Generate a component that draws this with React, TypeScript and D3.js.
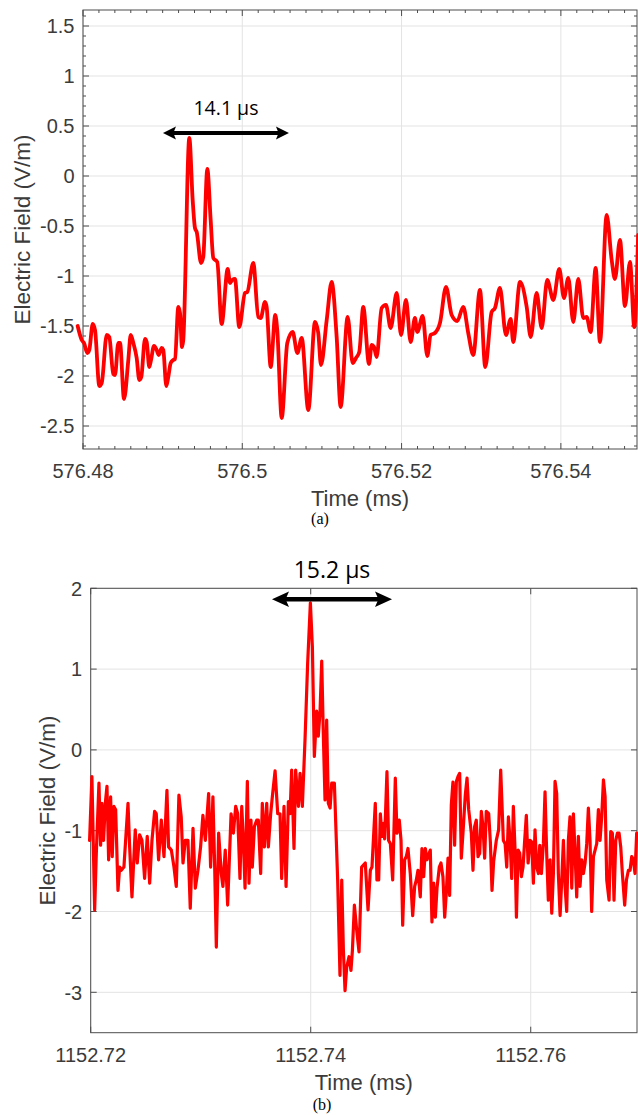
import React from 'react'
import * as d3 from 'd3'

const WIDTH = 638
const HEIGHT = 1115

// (a) field record around 576.5 ms, times given in µs after startA
const startA = 576.48
const offsetUsA = [
  -0.67, -0.16, 0.13, 0.54, 0.79, 1.22, 1.51, 2.05, 2.35, 2.98,
  3.3, 3.8, 4.02, 4.43, 4.65, 5.15, 5.69, 5.99, 6.32, 6.74,
  7.07, 7.32, 7.78, 8.0, 8.32, 8.54, 8.91, 9.25, 9.5, 9.88,
  10.08, 10.46, 10.71, 11.01, 11.34, 11.55, 11.97, 12.18, 12.43, 12.59,
  13.35, 13.77, 14.06, 14.28, 14.82, 15.1, 15.61, 16.03, 16.36, 16.86,
  17.41, 18.17, 18.46, 18.74, 19.08, 19.62, 20.34, 20.63, 21.38, 22.01,
  22.31, 22.85, 23.06, 23.57, 24.14, 24.39, 24.95, 25.65, 26.33, 26.91,
  27.46, 28.29, 29.13, 29.54, 29.88, 30.6, 31.22, 31.85, 32.35, 33.23,
  33.86, 34.28, 34.69, 35.19, 35.91, 36.25, 36.54, 36.87, 37.5, 38.04,
  38.63, 39.39, 39.93, 40.55, 41.14, 41.68, 41.97, 42.65, 43.23, 43.65,
  44.19, 44.82, 45.58, 46.29, 46.99, 47.75, 48.37, 49.0, 49.84, 50.51,
  51.31, 51.73, 52.35, 53.11, 53.7, 54.02, 54.87, 55.71, 56.21, 56.96,
  57.59, 58.29, 59.05, 59.8, 60.39, 60.93, 61.56, 62.19, 62.81, 63.24,
  63.74, 64.37, 64.91, 65.75, 66.38, 66.79, 67.42, 68.05, 68.68, 69.22,
  69.7
]
const fieldA = [
  -1.5, -1.64, -1.67, -1.77, -1.74, -1.48, -1.54, -2.1, -2.07, -1.59,
  -1.61, -1.98, -1.99, -1.67, -1.67, -2.23, -1.84, -1.59, -1.67, -1.82,
  -2.04, -2.01, -1.63, -1.66, -1.91, -1.84, -1.7, -1.74, -1.79, -1.72,
  -1.74, -2.1, -2.01, -1.87, -1.84, -1.83, -1.31, -1.37, -1.71, -1.64,
  0.38, -0.24, -0.52, -0.56, -0.87, -0.81, 0.07, -0.44, -0.82, -0.86,
  -1.48, -0.93, -1.07, -1.04, -1.03, -1.51, -1.17, -1.16, -0.87, -1.41,
  -1.42, -1.26, -1.31, -1.91, -1.39, -1.54, -2.42, -1.67, -1.56, -1.77,
  -1.62, -2.34, -1.46, -1.57, -1.89, -1.44, -1.06, -1.61, -2.31, -1.41,
  -1.87, -1.82, -1.76, -1.31, -1.88, -1.69, -1.71, -1.81, -1.32, -1.29,
  -1.52, -1.17, -1.59, -1.24, -1.66, -1.42, -1.56, -1.4, -1.8, -1.59,
  -1.57, -1.47, -1.11, -1.39, -1.45, -1.31, -1.57, -1.79, -1.14, -1.91,
  -1.36, -1.32, -1.12, -1.59, -1.43, -1.66, -1.06, -1.31, -1.61, -1.17,
  -1.52, -1.04, -1.24, -0.93, -1.22, -1.02, -1.46, -1.03, -1.42, -1.41,
  -1.56, -0.92, -1.66, -0.39, -0.84, -1.03, -0.64, -1.3, -0.86, -1.51,
  -0.59
]
const xTicksA = [576.48, 576.5, 576.52, 576.54]
const yTicksA = [-2.5, -2, -1.5, -1, -0.5, 0, 0.5, 1, 1.5]

// (b) field record around 1152.74 ms, times given in µs after startB
const startB = 1152.72
const offsetUsB = [
  -0.1, 0.11, 0.36, 0.51, 0.75, 0.9, 1.02, 1.17, 1.33, 1.48,
  1.63, 1.81, 1.96, 2.11, 2.27, 2.48, 2.63, 2.78, 3.02, 3.39,
  3.54, 3.75, 4.05, 4.23, 4.45, 4.66, 4.9, 5.14, 5.36, 5.57,
  5.81, 5.96, 6.17, 6.42, 6.66, 6.93, 7.08, 7.33, 7.57, 7.78,
  8.02, 8.23, 8.39, 8.6, 8.84, 9.05, 9.3, 9.51, 9.75, 9.99,
  10.2, 10.42, 10.72, 10.9, 11.11, 11.27, 11.42, 11.63, 11.87, 12.02,
  12.23,
  12.45, 12.76, 12.97, 13.18, 13.36, 13.57, 13.73, 13.88, 14.03, 14.24,
  14.39, 14.57, 14.69, 14.88, 15.09, 15.24, 15.45, 15.6, 15.79, 16.0,
  16.15, 16.36, 16.54, 16.76, 17.0, 17.21, 17.36, 17.57, 17.76, 17.97,
  18.12, 18.27, 18.48, 18.63, 18.88, 19.03, 19.24, 19.48, 19.72, 19.97,
  20.15, 20.33, 20.54, 20.69, 20.85, 21.0, 21.15, 21.3, 21.45, 21.6,
  21.76, 21.91, 22.15, 22.45, 22.66, 22.82, 22.97, 23.12, 23.27, 23.48,
  23.66, 23.79, 23.97, 24.18, 24.39, 24.63,
  24.96, 25.21, 25.42, 25.57, 25.87, 26.02, 26.18, 26.33, 26.48, 26.63,
  26.72, 26.93, 27.08, 27.24, 27.45, 27.69, 27.84, 28.05, 28.21, 28.36,
  28.54, 28.69, 28.84, 29.05, 29.27, 29.45, 29.6, 29.75, 29.96, 30.11,
  30.27, 30.42, 30.57, 30.87, 31.02, 31.18, 31.33, 31.48, 31.69, 31.84,
  32.02, 32.18, 32.33, 32.48, 32.63, 32.78, 32.93, 33.08, 33.24, 33.39,
  33.54, 33.69, 33.84, 34.05, 34.21, 34.36, 34.6, 34.75, 34.9, 35.05,
  35.21, 35.36, 35.51, 35.66, 35.81, 35.96, 36.18, 36.33, 36.48, 36.63,
  36.87, 37.08,
  37.27, 37.51, 37.67, 37.82, 37.97, 38.12, 38.27, 38.42, 38.57, 38.7,
  38.85, 39.0, 39.15, 39.3, 39.45, 39.6, 39.76, 39.94, 40.09, 40.24,
  40.39, 40.54, 40.7, 40.82, 40.97, 41.15, 41.3, 41.45, 41.6, 41.76,
  41.91, 42.06, 42.21, 42.36, 42.51, 42.67, 42.82, 42.97, 43.12, 43.27,
  43.42, 43.57, 43.73, 43.88, 44.03, 44.18, 44.33, 44.48, 44.64, 44.79,
  44.94, 45.09, 45.24, 45.39, 45.54, 45.7, 45.85, 46.0, 46.15, 46.3,
  46.45, 46.61, 46.76, 46.91, 47.12, 47.27, 47.42, 47.57, 47.73, 47.88,
  48.03, 48.18, 48.33, 48.54, 48.7, 48.88, 49.03, 49.18, 49.33, 49.48,
  49.63
]
const fieldB = [
  -1.12, -0.33, -1.98, -1.28, -0.41, -1.18, -0.66, -1.12, -0.66, -0.45,
  -1.36, -0.58, -1.32, -0.7, -0.74, -1.74, -1.45, -1.49, -1.45, -0.66,
  -1.2, -1.82, -0.99, -1.4, -1.05, -1.12, -1.59, -1.07, -1.65, -1.12,
  -0.76, -0.79, -1.36, -0.87, -1.32, -0.5, -1.2, -1.24, -1.45, -1.69,
  -0.56, -0.83, -1.4, -1.12, -1.12, -1.96, -0.97, -1.71, -1.49, -1.2,
  -0.81, -1.12, -0.54, -1.45, -0.58, -1.45, -2.44, -1.03, -1.53, -1.69,
  -1.24,
  -1.92, -0.79, -1.03, -0.7, -0.79, -1.59, -0.7, -1.12, -1.71, -0.39,
  -1.65, -0.87, -1.45, -0.95, -0.87, -0.87, -1.53, -0.66, -1.2, -0.66,
  -1.2, -0.79, -0.54, -0.26, -0.79, -0.79, -1.59, -0.7, -1.69, -0.64,
  -0.79, -0.25, -1.22, -0.25, -0.7, -0.29, -0.7, 0.12, 1.07, 1.82,
  1.28, -0.08, 0.48, 0.17, 0.48, 1.1, 0.17, -0.62, 0.37, -0.66,
  -0.72, -0.41, -0.41, -1.61, -2.79, -1.61, -2.48, -2.98, -2.69, -2.56,
  -2.73, -2.48, -1.92, -2.23, -2.5, -1.45,
  -1.4, -1.98, -1.49, -1.45, -0.66, -1.61, -1.61, -0.79, -1.07, -0.91,
  -1.1, -0.27, -1.12, -1.16, -1.61, -0.35, -1.03, -0.87, -1.12, -2.17,
  -1.36, -1.32, -1.22, -1.53, -2.05, -1.69, -1.61, -1.49, -1.82, -1.22,
  -1.57, -1.22, -1.36, -1.24, -2.13, -1.65, -2.07, -1.71, -1.45, -1.4,
  -1.57, -2.07, -1.76, -1.34, -1.8, -0.68, -0.4, -1.18, -0.39, -0.33,
  -0.29, -1.34, -1.03, -0.56, -0.35, -0.74, -1.03, -1.49, -0.95, -0.87,
  -1.32, -1.28, -0.76, -0.95, -1.34, -0.76, -0.79, -1.14, -1.74, -1.38,
  -1.12, -0.99,
  -0.25, -1.12, -1.16, -1.45, -0.83, -1.12, -1.59, -0.7, -1.22, -2.07,
  -1.24, -1.28, -1.57, -1.45, -1.12, -0.81, -1.4, -1.12, -1.14, -1.65,
  -0.99, -1.45, -1.53, -1.18, -1.53, -1.16, -0.52, -1.28, -1.86, -1.36,
  -2.02, -1.53, -0.39, -0.54, -1.53, -2.05, -1.61, -1.12, -1.69, -2.0,
  -1.12, -0.83, -1.71, -0.79, -1.28, -1.82, -1.07, -1.69, -1.36, -1.53,
  -1.4, -1.16, -0.72, -1.12, -2.0, -1.32, -1.24, -1.16, -0.74, -1.12,
  -0.83, -0.37, -0.58, -1.61, -1.86, -1.01, -1.03, -1.86, -1.12, -1.03,
  -1.03, -1.2, -1.53, -1.92, -1.61, -1.49, -1.49, -1.32, -1.36, -1.53,
  -1.03
]
const xTicksB = [1152.72, 1152.74, 1152.76]
const yTicksB = [-3, -2, -1, 0, 1, 2]

const AXIS = '#4d4d4d'
const GRID = '#e3e3e3'
const TEXT = '#3b3b3b'
const SANS = '"Liberation Sans", Arial, Helvetica, sans-serif'

const minorTicks = (domain, step, majors) => {
  if (!step) return []
  const a = Math.ceil(domain[0] / step - 1e-6)
  const b = Math.floor(domain[1] / step + 1e-6)
  return d3
    .range(a, b + 1)
    .map(k => k * step)
    .filter(v => !majors.some(t => Math.abs(t - v) < step / 10))
}

const Arrow = ({ x1, x2, y, len, half, width }) => {
  const head = (tip, dir) =>
    `M${tip},${y} L${tip + dir * len},${y - half} L${tip + dir * len * 0.8},${y} L${tip + dir * len},${y + half} Z`
  return (
    <g>
      <line x1={x1 + len * 0.7} x2={x2 - len * 0.7} y1={y} y2={y} stroke="#000" strokeWidth={width} />
      <path d={head(x1, 1)} fill="#000" />
      <path d={head(x2, -1)} fill="#000" />
    </g>
  )
}

const Panel = props => {
  let {
    start, offsetsUs, field, xDomain, yDomain, left, right, top, bottom,
    xTicks, yTicks, xMinorStep, yMinorStep, lineWidth, smooth, span,
    yLabelX, caption, captionX, captionY
  } = props

  const x = d3.scaleLinear().domain(xDomain).range([left, right])
  const y = d3.scaleLinear().domain(yDomain).range([bottom, top])

  const points = d3.zip(offsetsUs, field).map(([us, v]) => [start + us / 1000, v])
  const trace = d3
    .line()
    .x(d => x(d[0]))
    .y(d => y(d[1]))
    .curve(smooth ? d3.curveMonotoneX : d3.curveLinear)(points)

  const xMinor = minorTicks(xDomain, xMinorStep, xTicks)
  const yMinor = minorTicks(yDomain, yMinorStep, yTicks)
  const major = 6
  const minor = 3

  const ax1 = x(span.from)
  const ax2 = x(span.to)
  const ay = y(span.level)

  return (
    <g>
      {xTicks.map(t => (
        <line key={'gx' + t} x1={x(t)} x2={x(t)} y1={top} y2={bottom} stroke={GRID} strokeWidth={1} />
      ))}
      {yTicks.map(t => (
        <line key={'gy' + t} x1={left} x2={right} y1={y(t)} y2={y(t)} stroke={GRID} strokeWidth={1} />
      ))}

      <rect x={left} y={top} width={right - left} height={bottom - top} fill="none" stroke={AXIS} strokeWidth={1} />

      {xTicks.map(t => (
        <g key={'tx' + t}>
          <line x1={x(t)} x2={x(t)} y1={bottom} y2={bottom - major} stroke={AXIS} />
          <line x1={x(t)} x2={x(t)} y1={top} y2={top + major} stroke={AXIS} />
          <text x={x(t)} y={bottom + 29} textAnchor="middle" fontFamily={SANS} fontSize={20} fill={TEXT}>
            {String(t)}
          </text>
        </g>
      ))}
      {xMinor.map(t => (
        <g key={'mx' + t}>
          <line x1={x(t)} x2={x(t)} y1={bottom} y2={bottom - minor} stroke={AXIS} />
          <line x1={x(t)} x2={x(t)} y1={top} y2={top + minor} stroke={AXIS} />
        </g>
      ))}
      {yTicks.map(t => (
        <g key={'ty' + t}>
          <line x1={left} x2={left + major} y1={y(t)} y2={y(t)} stroke={AXIS} />
          <line x1={right} x2={right - major} y1={y(t)} y2={y(t)} stroke={AXIS} />
          <text x={left - 8.5} y={y(t)} dy="0.36em" textAnchor="end" fontFamily={SANS} fontSize={20} fill={TEXT}>
            {String(t)}
          </text>
        </g>
      ))}
      {yMinor.map(t => (
        <g key={'my' + t}>
          <line x1={left} x2={left + minor} y1={y(t)} y2={y(t)} stroke={AXIS} />
          <line x1={right} x2={right - minor} y1={y(t)} y2={y(t)} stroke={AXIS} />
        </g>
      ))}

      <text
        transform={`translate(${yLabelX},${(top + bottom) / 2}) rotate(-90)`}
        textAnchor="middle"
        fontFamily={SANS}
        fontSize={22.5}
        fill={TEXT}
      >
        Electric Field (V/m)
      </text>
      <text x={(left + right) / 2} y={bottom + 57} textAnchor="middle" fontFamily={SANS} fontSize={22} fill={TEXT}>
        Time (ms)
      </text>

      <path
        d={trace}
        fill="none"
        stroke="#ff0000"
        strokeWidth={lineWidth}
        strokeLinejoin="round"
        strokeLinecap="round"
      />

      <Arrow x1={ax1} x2={ax2} y={ay} len={span.head} half={span.half} width={span.width} />
      <text
        x={(ax1 + ax2) / 2}
        y={ay - span.gap}
        textAnchor="middle"
        fontFamily='"Open Sans", "Liberation Sans", sans-serif'
        fontSize={span.fontSize}
        fill="#000"
      >
        {span.label}
      </text>

      <text
        x={captionX}
        y={captionY}
        textAnchor="middle"
        fontFamily='"Liberation Serif", "Times New Roman", serif'
        fontSize={16}
        fill="#000"
      >
        {caption}
      </text>
    </g>
  )
}

const App = () => {
  return (
    <svg
      width={WIDTH}
      height={HEIGHT}
      style={{ position: 'absolute', left: 0, top: 0, background: '#fff' }}
    >
      <Panel
        start={startA}
        offsetsUs={offsetUsA}
        field={fieldA}
        xDomain={[576.48, 576.54956]}
        yDomain={[-2.73, 1.66]}
        left={83}
        right={637}
        top={10}
        bottom={449}
        xTicks={xTicksA}
        yTicks={yTicksA}
        xMinorStep={0.002}
        yMinorStep={0.1}
        lineWidth={3.8}
        smooth={true}
        span={{ label: '14.1 µs', from: 576.49004, to: 576.50586, level: 0.43, head: 13, half: 6.5, width: 4, gap: 18, fontSize: 19.5 }}
        yLabelX={30}
        caption="(a)"
        captionX={320}
        captionY={524}
      />
      <Panel
        start={startB}
        offsetsUs={offsetUsB}
        field={fieldB}
        xDomain={[1152.72, 1152.76966]}
        yDomain={[-3.5, 2]}
        left={90.7}
        right={637}
        top={588.3}
        bottom={1032.7}
        xTicks={xTicksB}
        yTicks={yTicksB}
        lineWidth={3.2}
        smooth={false}
        span={{ label: '15.2 µs', from: 1152.73648, to: 1152.74739, level: 1.864, head: 17, half: 7.8, width: 4.5, gap: 21, fontSize: 23 }}
        yLabelX={55}
        caption="(b)"
        captionX={322}
        captionY={1110}
      />
    </svg>
  )
}

export default App
